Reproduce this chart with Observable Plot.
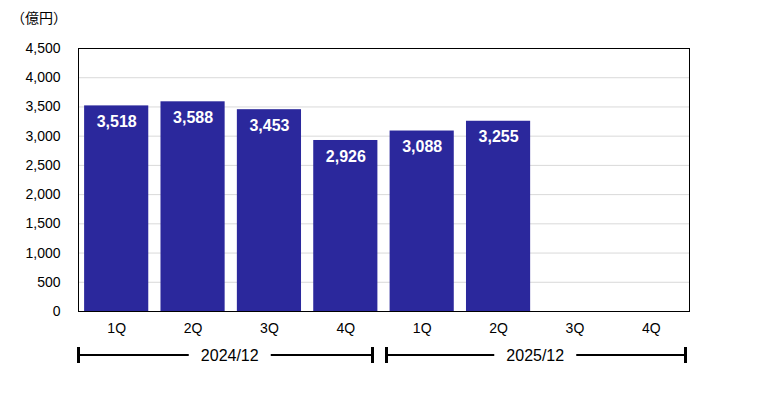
<!DOCTYPE html>
<html><head><meta charset="utf-8">
<script src="https://cdn.jsdelivr.net/npm/d3@7"></script>
<script src="https://cdn.jsdelivr.net/npm/@observablehq/plot@0.6"></script>
<style>
body{margin:0;background:#fff;}
#c{position:relative;width:757px;height:394px;}
#unit{position:absolute;left:11px;top:7px;font:14px "Noto Sans CJK JP","Liberation Sans",sans-serif;color:#000;}
</style></head>
<body><div id="c"><div id="unit">（億円）</div></div>
<script>
const periods = ["2024/12", "2025/12"];
const quarters = ["1Q", "2Q", "3Q", "4Q"];
const values2024 = [3518, 3588, 3453, 2926];
const values2025 = [3088, 3255, null, null];
const yTicks = [0, 500, 1000, 1500, 2000, 2500, 3000, 3500, 4000, 4500];

const seriesValues = [values2024, values2025];
const data = [];
periods.forEach((p, i) => quarters.forEach((q, j) => data.push({key: p + "|" + q, period: p, q, value: seriesValues[i][j]})));
const keys = data.map(d => d.key);
const bars = data.filter(d => d.value != null);

const plot = Plot.plot({
  width: 757, height: 394,
  marginTop: 48, marginBottom: 83, marginLeft: 78, marginRight: 68,
  style: {fontFamily: "'Liberation Sans', Arial, sans-serif", fontSize: "14px", color: "#000", background: "#fff"},
  x: {type: "band", domain: keys, paddingInner: 0.16, paddingOuter: 0.08, round: false, label: null, tickSize: 0, tickPadding: 12, tickFormat: k => k.split("|")[1]},
  y: {domain: [0, 4500], ticks: yTicks, label: null, tickSize: 0, tickPadding: 18, tickFormat: d3.format(",")},
  marks: [
    Plot.ruleY(yTicks.slice(1, -1), {stroke: "#d9d9d9", strokeWidth: 1}),
    Plot.barY(bars, {x: "key", y: "value", fill: "#2b289c"}),
    Plot.text(bars, {x: "key", y: "value", text: d => d3.format(",")(d.value), dy: 16, fill: "#fff", fontWeight: "bold", fontSize: 16}),
    Plot.frame({stroke: "#000", strokeWidth: 1})
  ]
});
document.getElementById("c").appendChild(plot);

// period brackets under the quarter labels
const xs = plot.scale("x");
const [r0, r1] = xs.range;
const step = (r1 - r0) / keys.length;
const svg = d3.select(plot);
const by = 355;
const insets = [[-1, -9.5], [1.5, -2]];
periods.forEach((p, i) => {
  const first = xs.apply(p + "|" + quarters[0]);
  const last = xs.apply(p + "|" + quarters[quarters.length - 1]);
  const pad = (step - xs.bandwidth) / 2;
  const s0 = first - pad, s1 = last + xs.bandwidth + pad;
  const x0 = s0 + insets[i][0];
  const x1 = s1 + insets[i][1];
  const cx = (s0 + s1) / 2 - 1;
  const g = svg.append("g");
  const gap = 41;
  g.append("line").attr("x1", x0).attr("x2", cx - gap).attr("y1", by).attr("y2", by).attr("stroke", "#000").attr("stroke-width", 2);
  g.append("line").attr("x1", cx + gap).attr("x2", x1).attr("y1", by).attr("y2", by).attr("stroke", "#000").attr("stroke-width", 2);
  g.append("rect").attr("x", x0).attr("y", by - 8).attr("width", 3).attr("height", 16).attr("fill", "#000");
  g.append("rect").attr("x", x1 - 3).attr("y", by - 8).attr("width", 3).attr("height", 16).attr("fill", "#000");
  g.append("text").attr("x", cx).attr("y", by).attr("dy", "0.35em").attr("text-anchor", "middle")
    .attr("font-family", "'Liberation Sans', Arial, sans-serif").attr("font-size", 16).attr("fill", "#000").text(p);
});
</script>
</body></html>
